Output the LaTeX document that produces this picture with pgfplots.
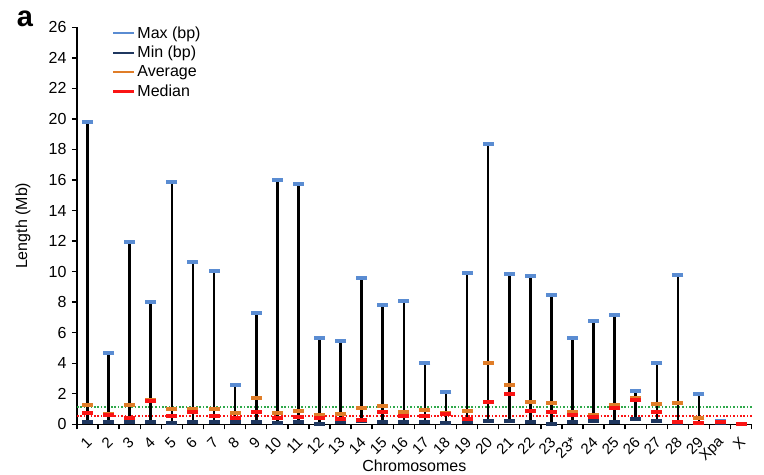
\documentclass[border=0pt]{standalone}
\usepackage{pgfplots}
\pgfplotsset{compat=1.18}
\usepackage{pgfplotstable}
\usepackage{fontspec}
\setmainfont{Liberation Sans}
\definecolor{maxc}{HTML}{5A8CD2}
\definecolor{minc}{HTML}{1F375F}
\definecolor{avgc}{HTML}{E07D28}
\definecolor{medc}{HTML}{FA1414}
\definecolor{greenc}{HTML}{2EA84A}
\pgfplotstableread{
idx max min avg med
0 19.80 0.17 1.29 0.76
1 4.68 0.17 0.68 0.60
2 11.95 0.17 1.27 0.43
3 8.00 0.17 1.60 1.53
4 15.86 0.11 1.02 0.54
5 10.66 0.17 1.02 0.80
6 10.07 0.17 0.98 0.56
7 2.60 0.17 0.72 0.39
8 7.28 0.17 1.71 0.80
9 16.03 0.08 0.76 0.39
10 15.75 0.17 0.90 0.46
11 5.66 0.00 0.63 0.43
12 5.46 0.13 0.70 0.37
13 9.61 0.20 1.07 0.26
14 7.80 0.17 1.20 0.81
15 8.10 0.17 0.83 0.57
16 4.04 0.17 0.92 0.57
17 2.14 0.06 0.72 0.66
18 9.90 0.17 0.85 0.35
19 18.37 0.20 4.00 1.48
20 9.84 0.20 2.60 1.99
21 9.70 0.15 1.46 0.87
22 8.48 0.00 1.38 0.79
23 5.66 0.15 0.79 0.61
24 6.78 0.22 0.63 0.46
25 7.13 0.15 1.29 1.09
26 2.20 0.37 1.70 1.62
27 4.04 0.22 1.31 0.81
28 9.77 0.10 1.42 0.15
29 2.01 0.10 0.39 0.11
30 0.20 0.10 0.18 0.15
31 0.03 0.02 0.03 0.02
}\data
\begin{document}
\begin{tikzpicture}
\useasboundingbox (0,0) rectangle (764bp,-475bp);
\node[font=\fontsize{29bp}{30bp}\selectfont\bfseries] at (25bp,-19bp) {a};
\begin{axis}[
  at={(77bp,-424.3bp)}, anchor=south west,
  scale only axis, width=674.7bp, height=397bp,
  xmin=-0.5, xmax=31.5, ymin=0, ymax=26,
  clip=false,
  axis x line*=bottom, axis y line*=left,
  axis line style={line width=1.4bp, -},
  every tick/.style={black, line width=1.4bp},
  tick align=outside,
  major tick length=5bp, minor tick length=5bp,
  ytick={0,2,...,26},
  xtick={0,...,31},
  xticklabels={1,2,3,4,5,6,7,8,9,10,11,12,13,14,15,16,17,18,19,20,21,22,23,23*,24,25,26,27,28,29,Xpa,X},
  major x tick style={draw=none},
  minor xtick={-0.5,0.5,...,31.5},
  /pgf/number format/assume math mode=true,
  yticklabel style={font=\fontsize{16bp}{18bp}\selectfont, xshift=-2bp},
  xticklabel style={font=\fontsize{15bp}{17bp}\selectfont, xshift=4bp, yshift=-8bp, rotate=45, anchor=east},
  xlabel={Chromosomes},
  ylabel={Length (Mb)},
  label style={font=\fontsize{16bp}{18bp}\selectfont},
  xlabel style={at={(axis description cs:0.5,-0.105)}, anchor=center},
  ylabel style={at={(axis description cs:-0.08,0.5)}, anchor=center},
  legend image code/.code={\draw[#1] (-3bp,0bp) -- (18bp,0bp);},
  legend style={at={(axis description cs:0.0474,1.012)}, anchor=north west,
    draw=none, fill=none, font=\fontsize{16bp}{18bp}\selectfont,
    row sep=2.5bp},
  legend cell align=left,
]
\addlegendimage{maxc, line width=2.3bp}
\addlegendentry{Max (bp)}
\addlegendimage{minc, line width=2.3bp}
\addlegendentry{Min (bp)}
\addlegendimage{avgc, line width=2.3bp}
\addlegendentry{Average}
\addlegendimage{medc, line width=2.3bp}
\addlegendentry{Median}

\addplot[forget plot, color=greenc, line width=2bp, dash pattern=on 1.6bp off 1.8bp] coordinates {(-0.5,1.11) (31.5,1.11)};
\addplot[forget plot, color=medc, line width=2bp, dash pattern=on 1.6bp off 1.8bp] coordinates {(-0.5,0.52) (31.5,0.52)};

\addplot[forget plot, draw=none, mark=none,
  error bars/.cd, y dir=plus, y explicit, error mark=none,
  error bar style={draw=black, line width=2.6bp}]
  table[x=idx, y=min, y error expr=\thisrow{max}-\thisrow{min}] {\data};

\addplot[forget plot, only marks, mark=-, mark size=5.5bp, mark options={draw=maxc, line width=4bp, solid}] table[x=idx, y=max] {\data};
\addplot[forget plot, only marks, mark=-, mark size=5.5bp, mark options={draw=minc, line width=4bp, solid}] table[x=idx, y=min] {\data};
\addplot[forget plot, only marks, mark=-, mark size=5.5bp, mark options={draw=avgc, line width=4bp, solid}] table[x=idx, y=avg] {\data};
\addplot[forget plot, only marks, mark=-, mark size=5.5bp, mark options={draw=medc, line width=4bp, solid}] table[x=idx, y=med] {\data};
\end{axis}
\end{tikzpicture}
\end{document}
